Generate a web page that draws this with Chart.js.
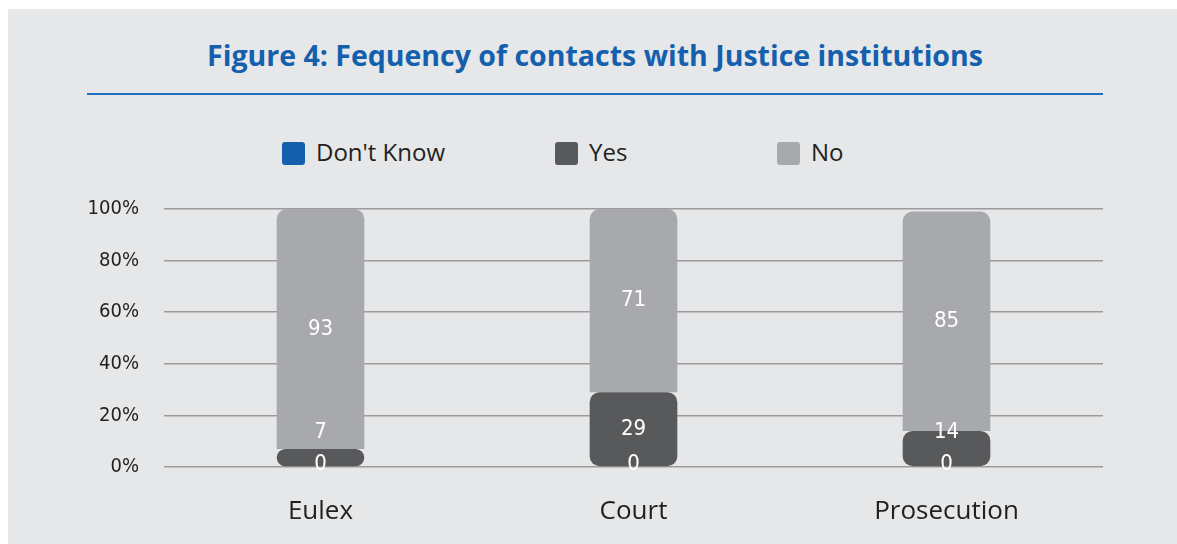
<!DOCTYPE html>
<html>
<head>
<meta charset="utf-8">
<script src="https://cdn.jsdelivr.net/npm/chart.js@4.4.0/dist/chart.umd.min.js"></script>
<style>
  body { margin: 0; background: #fff; width: 1177px; height: 544px; overflow: hidden; }
  #box { position: absolute; left: 8px; top: 9px; width: 1169px; height: 535px; background: #e6e7e8; }
  #title { position: absolute; left: 87px; top: 9px; width: 1016px; height: 84px; border-bottom: 2px solid #1f6fc1;
    text-align: center; font: bold 28.5px 'Open Sans', sans-serif; line-height: 92px; color: #1560ad; }
  #myChart { position: absolute; left: 8px; top: 120px; }
  .leg { position: absolute; top: 135px; height: 28px; line-height: 28px; font: 24px 'Open Sans', sans-serif; color: #231f20; white-space: nowrap; }
  .leg i { display: inline-block; width: 23px; height: 23px; border-radius: 3px; vertical-align: -4px; margin-right: 11px; }
</style>
</head>
<body>
<div id="box"></div>
<div id="title">Figure 4: Fequency of contacts with Justice institutions</div>
<div id="legend"></div>
<canvas id="myChart" width="1169" height="424"></canvas>
<script>
let categories = ['Eulex', 'Court', 'Prosecution']
let seriesNames = ["Don't Know", 'Yes', 'No']
let dontKnow = [0, 0, 0]
let yes = [7, 29, 14]
let no = [93, 71, 85]
let yTicks = [0, 20, 40, 60, 80, 100]
let colors = ['#1560ad', '#58595b', '#a7a9ac']

let r = 10
// white numbers on the bars
let labelsPlugin = {
    id: 'labels',
    afterDatasetsDraw(chart) {
        let ctx = chart.ctx
        ctx.save()
        ctx.fillStyle = '#fff'
        ctx.font = "22px 'DejaVu Sans Condensed', sans-serif"
        ctx.textAlign = 'center'
        ctx.textBaseline = 'middle'
        chart.data.datasets.forEach((ds, i) => {
            chart.getDatasetMeta(i).data.forEach((el, j) => {
                let p = el.getProps(['x', 'y', 'base'], true)
                let y = (p.y + p.base) / 2
                if (i == 0) y = p.base - 3
                if (i == 1) y = Math.min(y, p.base - 34)
                ctx.fillText(ds.data[j], p.x, y)
            })
        })
        ctx.restore()
    }
}

let chart = new Chart('myChart', {
    type: 'bar',
    data: {
        labels: categories,
        datasets: [{
            label: seriesNames[0],
            data: dontKnow,
            backgroundColor: colors[0],
            borderRadius: 3
        }, {
            label: seriesNames[1],
            data: yes,
            backgroundColor: colors[1],
            borderSkipped: false,
            borderRadius: { topLeft: r, topRight: r, bottomLeft: r, bottomRight: r }
        }, {
            label: seriesNames[2],
            data: no,
            backgroundColor: colors[2],
            borderSkipped: false,
            borderRadius: { topLeft: r, topRight: r, bottomLeft: 0, bottomRight: 0 }
        }]
    },
    options: {
        responsive: false,
        animation: false,
        layout: { padding: { left: 0, right: 74, top: 89, bottom: 0 } },
        datasets: { bar: { barPercentage: 0.28, categoryPercentage: 1 } },
        plugins: {
            legend: { display: false },
            tooltip: { enabled: false }
        },
        scales: {
            x: {
                stacked: true,
                afterFit: axis => { axis.height = 77 },
                grid: { display: false },
                border: { display: false },
                ticks: { color: '#231f20', font: { size: 26, family: "'Open Sans', sans-serif" }, padding: 21 }
            },
            y: {
                stacked: true,
                min: 0, max: 100,
                afterBuildTicks: axis => { axis.ticks = yTicks.map(v => ({ value: v })) },
                afterFit: axis => { axis.width = 156 },
                grid: { color: '#9b9b9b', lineWidth: 1.5, drawTicks: false },
                border: { display: false },
                ticks: {
                    color: '#231f20', padding: 25,
                    font: { size: 20, family: "'DejaVu Sans Condensed', sans-serif" },
                    callback: v => v + '%'
                }
            }
        }
    },
    plugins: [labelsPlugin]
})

// legend as html, at the spots of the original
let legX = [282, 555, 777]
let leg = document.querySelector('#legend')
let str = ''
chart.data.datasets.forEach((ds, i) => {
    str += `<div class="leg" style="left:${legX[i]}px"><i style="background:${ds.backgroundColor}"></i>${ds.label}</div>`
})
leg.innerHTML = str
</script>
</body>
</html>
